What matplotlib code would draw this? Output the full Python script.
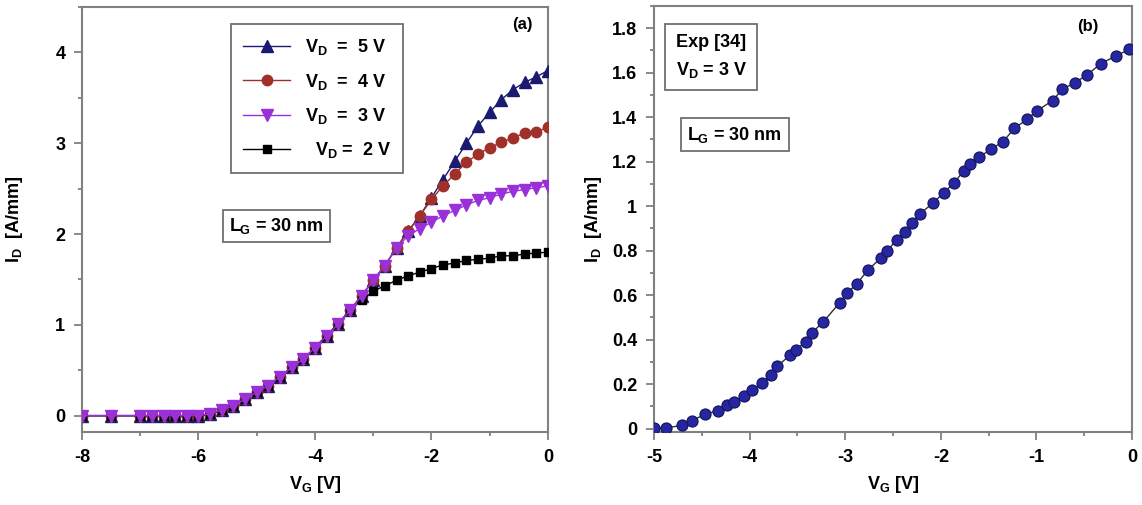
import matplotlib.pyplot as plt
from matplotlib.ticker import MultipleLocator

plt.rcParams['font.family'] = ['Liberation Sans', 'DejaVu Sans']
plt.rcParams['font.weight'] = 'bold'
plt.rcParams['axes.unicode_minus'] = False
plt.rcParams['mathtext.fontset'] = 'custom'
plt.rcParams['mathtext.rm'] = 'Liberation Sans:bold'
plt.rcParams['mathtext.it'] = 'Liberation Sans:bold'
plt.rcParams['mathtext.bf'] = 'Liberation Sans:bold'

# ---------- panel (a): I_D - V_G at several V_D ----------
vg_a = [-8, -7.5, -7, -6.8, -6.6, -6.4, -6.2, -6, -5.8, -5.6, -5.4, -5.2, -5, -4.8,
        -4.6, -4.4, -4.2, -4, -3.8, -3.6, -3.4, -3.2, -3, -2.8, -2.6, -2.4, -2.2,
        -2, -1.8, -1.6, -1.4, -1.2, -1, -0.8, -0.6, -0.4, -0.2, 0]

# common part of all curves up to V_G = -3.4
id_low = [0, 0, 0, 0, 0, 0, 0, 0, 0.02, 0.06, 0.11, 0.18, 0.26, 0.33,
          0.43, 0.53, 0.62, 0.75, 0.88, 1.01, 1.16]

id_5v = id_low + [1.32, 1.49, 1.65, 1.85, 2.03, 2.2, 2.4, 2.6, 2.8, 3.0, 3.19,
                  3.34, 3.48, 3.59, 3.67, 3.73, 3.8]
id_4v = id_low + [1.32, 1.49, 1.65, 1.85, 2.03, 2.2, 2.38, 2.53, 2.66, 2.79, 2.88,
                  2.95, 3.01, 3.06, 3.11, 3.12, 3.18]
id_3v = id_low + [1.32, 1.49, 1.65, 1.85, 1.98, 2.06, 2.13, 2.2, 2.26, 2.32, 2.37,
                  2.4, 2.44, 2.47, 2.49, 2.51, 2.53]
id_2v = id_low + [1.27, 1.37, 1.43, 1.49, 1.54, 1.58, 1.62, 1.66, 1.68, 1.71, 1.72,
                  1.735, 1.76, 1.76, 1.78, 1.79, 1.8]

# ---------- panel (b): experiment [34], V_D = 3 V ----------
vg_b = [-5.0, -4.87, -4.71, -4.6, -4.47, -4.33, -4.24, -4.16, -4.06, -3.97, -3.87,
        -3.78, -3.71, -3.58, -3.52, -3.41, -3.35, -3.23, -3.06, -2.98, -2.88, -2.76,
        -2.63, -2.56, -2.46, -2.37, -2.3, -2.22, -2.08, -1.97, -1.86, -1.76, -1.7,
        -1.6, -1.48, -1.35, -1.23, -1.1, -0.99, -0.83, -0.73, -0.6, -0.47, -0.33,
        -0.17, -0.03]
id_b = [0.003, 0.003, 0.015, 0.035, 0.065, 0.08, 0.105, 0.12, 0.145, 0.175, 0.205,
        0.24, 0.28, 0.33, 0.355, 0.39, 0.43, 0.48, 0.565, 0.61, 0.65, 0.715,
        0.765, 0.8, 0.85, 0.885, 0.925, 0.965, 1.015, 1.06, 1.105, 1.16, 1.19,
        1.22, 1.255, 1.29, 1.35, 1.39, 1.43, 1.475, 1.525, 1.555, 1.59, 1.64,
        1.675, 1.705]

SPINE = '#808080'
box_style = dict(boxstyle='square,pad=0.35', fc='white', ec='#707070', lw=1.3)


def style_axes(ax):
    for s in ax.spines.values():
        s.set_color(SPINE)
        s.set_linewidth(1.5)
    ax.tick_params(which='both', direction='out', color=SPINE, width=1.3,
                   labelsize=13, top=False, right=False)
    ax.tick_params(which='major', length=6, pad=6)
    ax.tick_params(which='minor', length=3)
    for lab in ax.get_xticklabels() + ax.get_yticklabels():
        lab.set_fontweight('bold')


fig = plt.figure(figsize=(11.42, 5.05), dpi=100)
ax1 = fig.add_axes([0.0718, 0.1446, 0.408, 0.8416])
ax2 = fig.add_axes([0.5727, 0.1446, 0.4186, 0.8436])

ax1.plot(vg_a, id_5v, '-^', color='#1a1a70', ms=8, lw=1, label='$V_D$  =  5 V', zorder=3)
ax1.plot(vg_a, id_4v, '-o', color='#a0302a', ms=7.5, lw=1, label='$V_D$  =  4 V', zorder=4)
ax1.plot(vg_a, id_2v, '-s', color='black', ms=6, lw=1, label='  $V_D$ =  2 V', zorder=5)
ax1.plot(vg_a, id_3v, '-v', color='#9a30d8', ms=8, lw=1, label='$V_D$  =  3 V', zorder=6)

ax1.set_xlim(-8, 0)
ax1.set_ylim(-0.18, 4.5)
ax1.xaxis.set_major_locator(MultipleLocator(2))
ax1.xaxis.set_minor_locator(MultipleLocator(1))
ax1.yaxis.set_major_locator(MultipleLocator(1))
ax1.yaxis.set_minor_locator(MultipleLocator(0.5))
style_axes(ax1)
ax1.set_xlabel('$V_G$ [V]', fontsize=13, fontweight='bold', labelpad=6)
ax1.set_ylabel('$I_D$  [A/mm]', fontsize=13, fontweight='bold', labelpad=22)

h, l = ax1.get_legend_handles_labels()
order = [0, 1, 3, 2]
leg = ax1.legend([h[i] for i in order], [l[i] for i in order], loc='upper left',
                 bbox_to_anchor=(0.30, 0.98), fancybox=False, edgecolor='#707070',
                 framealpha=1, handlelength=2.6, labelspacing=0.8,
                 borderpad=0.7, prop={'weight': 'bold', 'size': 13})
leg.get_frame().set_linewidth(1.3)

ax1.text(0.418, 0.485, '$L_G$ = 30 nm', transform=ax1.transAxes, ha='center',
         va='center', fontsize=13, fontweight='bold', bbox=box_style)
ax1.text(0.946, 0.958, '(a)', transform=ax1.transAxes, ha='center', va='center',
         fontsize=12, fontweight='bold')

ax2.plot(vg_b, id_b, '-', color='#303030', lw=1, zorder=2)
ax2.plot(vg_b, id_b, 'o', color='#2626a0', mec='#14145e', mew=0.8, ms=8, zorder=3)

ax2.set_xlim(-5, 0)
ax2.set_ylim(-0.015, 1.9)
ax2.xaxis.set_major_locator(MultipleLocator(1))
ax2.xaxis.set_minor_locator(MultipleLocator(0.5))
ax2.yaxis.set_minor_locator(MultipleLocator(0.1))
ax2.set_yticks([0, 0.2, 0.4, 0.6, 0.8, 1, 1.2, 1.4, 1.6, 1.8])
ax2.set_yticklabels(['0', '0.2', '0.4', '0.6', '0.8', '1', '1.2', '1.4', '1.6', '1.8'])
style_axes(ax2)
ax2.set_xlabel('$V_G$ [V]', fontsize=13, fontweight='bold', labelpad=6)
ax2.set_ylabel('$I_D$  [A/mm]', fontsize=13, fontweight='bold', labelpad=6)

ax2.text(0.045, 0.935, 'Exp [34]\n$V_D$ = 3 V', transform=ax2.transAxes, ha='left',
         va='top', fontsize=13, fontweight='bold', linespacing=1.6,
         bbox=dict(boxstyle='square,pad=0.6', fc='white', ec='#707070', lw=1.3))
ax2.text(0.169, 0.698, '$L_G$ = 30 nm', transform=ax2.transAxes, ha='center',
         va='center', fontsize=13, fontweight='bold', bbox=box_style)
ax2.text(0.908, 0.951, '(b)', transform=ax2.transAxes, ha='center', va='center',
         fontsize=12, fontweight='bold')

fig.savefig('out.png', dpi=100)
